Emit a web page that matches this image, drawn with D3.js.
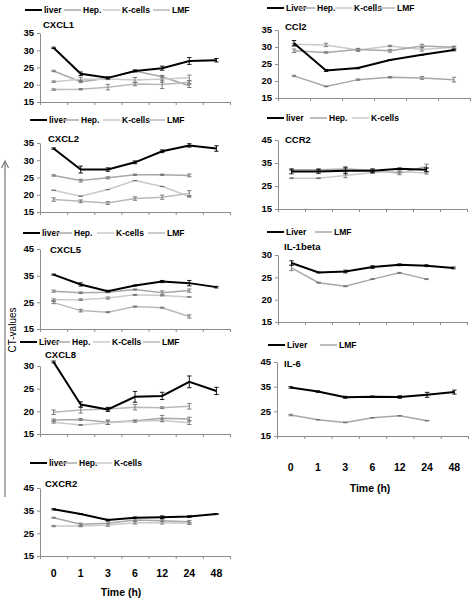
<!DOCTYPE html>
<html><head><meta charset="utf-8">
<script src="https://cdn.jsdelivr.net/npm/d3@7"></script>
<style>body{margin:0;background:#fff}svg{display:block}text{font-family:"Liberation Sans",Arial,sans-serif}</style>
</head><body>
<script>
// ---------- data ----------
const times = ["0","1","3","6","12","24","48"];

const cxcl1Liver = [30.7, 23.2, 22.0, 24.0, 24.8, 26.9, 27.1];
const cxcl1LiverErr = [0.2, 0.5, 0.3, 0.3, 0.6, 1.0, 0.5];
const cxcl1Hep = [24.0, 20.9, 21.9, 24.0, 22.3, 19.7];
const cxcl1HepErr = [0.2, 0.3, 0.2, 0.2, 0.3, 0.5];
const cxcl1Kc = [20.9, 21.6, 21.7, 21.4, 21.7, 22.0];
const cxcl1KcErr = [0.2, 0.6, 0.2, 0.7, 1.0, 0.8];
const cxcl1Lmf = [18.6, 18.7, 19.3, 20.2, 20.1, 20.7];
const cxcl1LmfErr = [0.2, 0.2, 0.8, 0.5, 1.2, 0.4];

const cxcl2Liver = [33.4, 27.3, 27.3, 29.4, 32.6, 34.3, 33.4];
const cxcl2LiverErr = [0.2, 1.0, 0.5, 0.4, 0.4, 0.5, 0.8];
const cxcl2Hep = [25.6, 24.1, 24.9, 25.8, 25.8, 25.6];
const cxcl2HepErr = [0.2, 0.4, 0.3, 0.2, 0.2, 0.4];
const cxcl2Kc = [21.3, 19.6, 21.5, 24.1, 22.4, 19.5];
const cxcl2KcErr = [0, 0, 0, 0, 0, 0.2];
const cxcl2Lmf = [18.6, 18.1, 17.6, 18.9, 19.3, 20.4];
const cxcl2LmfErr = [0.5, 0.4, 0.4, 0.5, 0.6, 0.8];

const cxcl5Liver = [35.4, 31.7, 29.2, 31.3, 32.8, 32.2, 30.7];
const cxcl5LiverErr = [0.2, 0.6, 0.3, 0.2, 0.4, 1.0, 0.3];
const cxcl5Hep = [29.2, 28.6, 28.8, 29.8, 28.6, 29.4];
const cxcl5HepErr = [0.4, 0.3, 0.2, 0.2, 0.7, 0.6];
const cxcl5Kc = [26.0, 26.0, 26.6, 27.8, 27.6, 27.0];
const cxcl5KcErr = [0.3, 0.3, 0.4, 0.2, 0.2, 0.1];
const cxcl5Lmf = [24.9, 21.9, 21.3, 23.4, 23.0, 19.7];
const cxcl5LmfErr = [0.4, 0.5, 0.2, 0.2, 0.2, 0.6];

const cxcl8Liver = [30.9, 21.5, 20.4, 23.2, 23.4, 26.5, 24.5];
const cxcl8LiverErr = [0.2, 0.6, 0.4, 1.2, 0.8, 1.3, 0.8];
const cxcl8Hep = [19.8, 20.3, 20.5, 20.9, 20.8, 21.1];
const cxcl8HepErr = [0.5, 0.7, 0.4, 0.6, 0.2, 0.6];
const cxcl8Kc = [18.1, 18.2, 17.6, 17.9, 18.5, 18.3];
const cxcl8KcErr = [0.2, 0.2, 0.5, 0.2, 0.6, 0.4];
const cxcl8Lmf = [17.6, 17.0, 17.5, 17.8, 18.0, 17.5];
const cxcl8LmfErr = [0.2, 0.1, 0.4, 0.2, 0.3, 0.4];

const cxcr2Liver = [35.6, 33.5, 30.9, 31.9, 32.1, 32.4, 33.5];
const cxcr2LiverErr = [0.3, 0.2, 0.3, 0.3, 0.6, 0.4, 0.2];
const cxcr2Hep = [31.9, 29.0, 29.4, 30.9, 30.6, 30.1];
const cxcr2HepErr = [0.2, 0.5, 0.8, 0.6, 0.7, 0.6];
const cxcr2Kc = [28.2, 28.2, 28.7, 29.7, 29.7, 29.4];
const cxcr2KcErr = [0.3, 0.3, 0.6, 0.6, 0.6, 0.5];

const ccl2Liver = [31.1, 23.1, 23.8, 26.2, 27.7, 29.1];
const ccl2LiverErr = [0.8, 0.3, 0.2, 0.1, 0.1, 0.2];
const ccl2Hep = [30.8, 30.6, 29.1, 30.3, 29.3, 29.9];
const ccl2HepErr = [0.3, 0.5, 0.4, 0.2, 0.5, 0.3];
const ccl2Kc = [28.9, 28.4, 29.3, 28.9, 30.3, 29.9];
const ccl2KcErr = [0.5, 0.2, 0.3, 0.4, 0.5, 0.3];
const ccl2Lmf = [21.5, 18.4, 20.4, 21.1, 20.9, 20.4];
const ccl2LmfErr = [0.2, 0.1, 0.2, 0.2, 0.4, 0.7];

const ccr2Liver = [31.3, 31.3, 31.6, 31.6, 32.5, 32.1];
const ccr2LiverErr = [1.0, 0.8, 1.3, 0.8, 0.3, 0.8];
const ccr2Hep = [32.1, 32.1, 32.4, 31.8, 30.5, 33.5];
const ccr2HepErr = [0.4, 0.5, 1.0, 0.5, 0.6, 1.0];
const ccr2Kc = [28.4, 28.4, 29.6, 30.9, 31.3, 30.6];
const ccr2KcErr = [0.2, 0.2, 1.0, 0.4, 0.3, 0.4];

const il1Liver = [28.2, 26.1, 26.3, 27.3, 27.8, 27.6, 27.1];
const il1LiverErr = [0.5, 0.1, 0.3, 0.3, 0.2, 0.2, 0.2];
const il1Lmf = [27.1, 23.8, 23.0, 24.6, 26.0, 24.6];
const il1LmfErr = [0.6, 0.1, 0.1, 0.1, 0.1, 0.1];

const il6Liver = [34.7, 33.0, 30.7, 30.9, 30.8, 31.7, 32.8];
const il6LiverErr = [0.3, 0.3, 0.4, 0.3, 0.5, 1.0, 0.8];
const il6Lmf = [23.5, 21.6, 20.5, 22.4, 23.2, 21.2];
const il6LmfErr = [0.3, 0.1, 0.1, 0.1, 0.1, 0.1];

const ticks20 = [15, 20, 25, 30, 35];
const ticks45 = [15, 25, 35, 45];
const ticks30 = [15, 20, 25, 30];

// ---------- styles ----------
const C_LIVER = "#000", C_HEP = "#a8a8a8", C_KC = "#cacaca", C_LMF = "#b9b9b9";

const W = 475, H = 600;
const svg = d3.select("body").append("svg").attr("width", W).attr("height", H);

const S = (values, errors, color) => ({values, errors, color, width: color === C_LIVER ? 2 : 1.5});

const panels = [
  {title:"CXCL1", x0:40, x1:230, yTop:33, yBot:102, domain:[15,35], ticks:ticks20, nb:7, titleX:43, titleY:28,
   legendY:10, legend:[["liver",C_LIVER,25],["Hep.",C_HEP,64],["K-cells",C_KC,103],["LMF",C_LMF,153]],
   series:[S(cxcl1Hep,cxcl1HepErr,C_HEP),S(cxcl1Kc,cxcl1KcErr,C_KC),S(cxcl1Lmf,cxcl1LmfErr,C_LMF),S(cxcl1Liver,cxcl1LiverErr,C_LIVER)]},
  {title:"CXCL2", x0:40, x1:230, yTop:143, yBot:212, domain:[15,35], ticks:ticks20, nb:7, titleX:48, titleY:142,
   legendY:120, legend:[["liver",C_LIVER,30],["Hep.",C_HEP,62],["K-cells",C_KC,103],["LMF",C_LMF,148]],
   series:[S(cxcl2Hep,cxcl2HepErr,C_HEP),S(cxcl2Kc,cxcl2KcErr,C_KC),S(cxcl2Lmf,cxcl2LmfErr,C_LMF),S(cxcl2Liver,cxcl2LiverErr,C_LIVER)]},
  {title:"CXCL5", x0:40, x1:230, yTop:249, yBot:329, domain:[15,45], ticks:ticks45, nb:7, titleX:50, titleY:253,
   legendY:233, legend:[["liver",C_LIVER,23],["Hep.",C_HEP,55],["K-cells",C_KC,97],["LMF",C_LMF,148]],
   series:[S(cxcl5Hep,cxcl5HepErr,C_HEP),S(cxcl5Kc,cxcl5KcErr,C_KC),S(cxcl5Lmf,cxcl5LmfErr,C_LMF),S(cxcl5Liver,cxcl5LiverErr,C_LIVER)]},
  {title:"CXCL8", x0:40, x1:230, yTop:366, yBot:434, domain:[15,30], ticks:ticks30, nb:7, titleX:45, titleY:358,
   legendY:342, legend:[["Liver",C_LIVER,20],["Hep.",C_HEP,53],["K-Cells",C_KC,93],["LMF",C_LMF,143]],
   series:[S(cxcl8Hep,cxcl8HepErr,C_LMF),S(cxcl8Kc,cxcl8KcErr,C_HEP),S(cxcl8Lmf,cxcl8LmfErr,C_KC),S(cxcl8Liver,cxcl8LiverErr,C_LIVER)]},
  {title:"CXCR2", x0:40, x1:230, yTop:488, yBot:556, domain:[15,45], ticks:ticks45, nb:7, titleX:45, titleY:487,
   legendY:463, legend:[["liver",C_LIVER,30],["Hep.",C_HEP,60],["K-cells",C_KC,95]], xLabels:true, xLabelY:577, timeX:121, timeY:596,
   series:[S(cxcr2Hep,cxcr2HepErr,C_HEP),S(cxcr2Kc,cxcr2KcErr,C_KC),S(cxcr2Liver,cxcr2LiverErr,C_LIVER)]},
  {title:"CCl2", x0:278, x1:470, yTop:30, yBot:98, domain:[15,35], ticks:ticks20, nb:6, titleX:285, titleY:30,
   legendY:8, legend:[["Liver",C_LIVER,267],["Hep.",C_HEP,298],["K-cells",C_KC,335],["LMF",C_LMF,378]],
   series:[S(ccl2Hep,ccl2HepErr,C_KC),S(ccl2Kc,ccl2KcErr,C_HEP),S(ccl2Lmf,ccl2LmfErr,C_HEP),S(ccl2Liver,ccl2LiverErr,C_LIVER)]},
  {title:"CCR2", x0:278, x1:467, yTop:140, yBot:209, domain:[15,45], ticks:ticks45, nb:7, titleX:285, titleY:143,
   legendY:118, legend:[["liver",C_LIVER,267],["Hep.",C_HEP,310],["K-cells",C_KC,352]],
   series:[S(ccr2Hep,ccr2HepErr,C_HEP),S(ccr2Kc,ccr2KcErr,C_KC),S(ccr2Liver,ccr2LiverErr,C_LIVER)]},
  {title:"IL-1beta", x0:278, x1:467, yTop:255, yBot:322, domain:[15,30], ticks:ticks30, nb:7, titleX:284, titleY:250,
   legendY:232, legend:[["Liver",C_LIVER,267],["LMF",C_HEP,315]],
   series:[S(il1Lmf,il1LmfErr,C_HEP),S(il1Liver,il1LiverErr,C_LIVER)]},
  {title:"IL-6", x0:277, x1:468, yTop:362, yBot:436, domain:[15,45], ticks:ticks45, nb:7, titleX:284, titleY:367,
   legendY:345, legend:[["Liver",C_LIVER,268],["LMF",C_HEP,320]], xLabels:true, xLabelY:471, timeX:370, timeY:492,
   series:[S(il6Lmf,il6LmfErr,C_HEP),S(il6Liver,il6LiverErr,C_LIVER)]}
];

const AX = "#8c8c8c";

panels.forEach(p => {
  const g = svg.append("g");
  const y = d3.scaleLinear().domain(p.domain).range([p.yBot, p.yTop]);
  const x = d3.scaleBand().domain(times.slice(0, p.nb)).range([p.x0, p.x1]).padding(0);
  const cx = t => x(t) + x.bandwidth() / 2;

  // y axis
  const ya = g.append("g").attr("transform", `translate(${p.x0},0)`)
    .call(d3.axisLeft(y).tickValues(p.ticks).tickSize(3).tickSizeOuter(0).tickFormat(""));
  ya.select(".domain").attr("stroke", AX);
  ya.selectAll(".tick line").attr("stroke", AX);
  g.selectAll(".ylab").data(p.ticks).enter().append("text")
    .attr("x", p.x0 - 6).attr("y", d => y(d)).attr("dy", "0.35em")
    .attr("text-anchor", "end").attr("font-size", 9.5).attr("font-weight", "bold")
    .attr("fill", "#000").text(d => String(d));

  // x axis (ticks at band boundaries)
  const bounds = times.slice(0, p.nb).map(t => x(t)).concat([p.x1]);
  const xa = g.append("g").attr("transform", `translate(0,${p.yBot})`)
    .call(d3.axisBottom(d3.scaleLinear().domain([p.x0, p.x1]).range([p.x0, p.x1]))
      .tickValues(bounds).tickSize(3).tickSizeOuter(0).tickFormat(""));
  xa.select(".domain").attr("stroke", AX);
  xa.selectAll(".tick line").attr("stroke", AX);

  if (p.xLabels) {
    g.selectAll(".xl").data(times.slice(0, p.nb)).enter().append("text")
      .attr("x", d => cx(d)).attr("y", p.xLabelY).attr("text-anchor", "middle")
      .attr("font-size", 10.5).attr("font-weight", "bold").text(d => d);
    g.append("text").attr("x", p.timeX).attr("y", p.timeY).attr("text-anchor", "middle")
      .attr("font-size", 10.5).attr("font-weight", "bold").text("Time (h)");
  }

  // title
  g.append("text").attr("x", p.titleX).attr("y", p.titleY).attr("font-size", 9.5)
    .attr("font-weight", "bold").text(p.title);

  // legend
  p.legend.forEach(([lab, col, lx]) => {
    g.append("line").attr("x1", lx).attr("x2", lx + 17).attr("y1", p.legendY).attr("y2", p.legendY)
      .attr("stroke", col).attr("stroke-width", col === C_LIVER ? 2 : 1.5);
    g.append("text").attr("x", lx + 19).attr("y", p.legendY + 3).attr("font-size", 8.5)
      .attr("font-weight", "bold").text(lab);
  });

  // series
  p.series.forEach(s => {
    const pts = s.values.map((v, i) => ({t: times[i], v, e: s.errors[i]}));
    g.append("path").datum(pts)
      .attr("d", d3.line().x(d => cx(d.t)).y(d => y(d.v)))
      .attr("fill", "none").attr("stroke", s.color).attr("stroke-width", s.width);
    const ec = s.color === C_LIVER ? "#000" : "#707070";
    pts.forEach(d => {
      const xx = cx(d.t), a = y(d.v + d.e), b = y(d.v - d.e);
      g.append("line").attr("x1", xx).attr("x2", xx).attr("y1", a).attr("y2", b).attr("stroke", ec).attr("stroke-width", 0.9);
      [a, b].forEach(yy => g.append("line").attr("x1", xx - 2.2).attr("x2", xx + 2.2).attr("y1", yy).attr("y2", yy)
        .attr("stroke", ec).attr("stroke-width", 0.9));
    });
  });
});

// CT-values arrow and label
svg.append("line").attr("x1", 5).attr("x2", 5).attr("y1", 497).attr("y2", 161).attr("stroke", "#7a7a7a").attr("stroke-width", 1.2);
svg.append("path").attr("d", "M1.5,168 L5,161 L8.5,168").attr("fill", "none").attr("stroke", "#7a7a7a").attr("stroke-width", 1.2);
svg.append("text").attr("transform", "translate(16,330) rotate(-90)").attr("text-anchor", "middle")
  .attr("font-size", 10).text("CT-values");
</script>
</body></html>
